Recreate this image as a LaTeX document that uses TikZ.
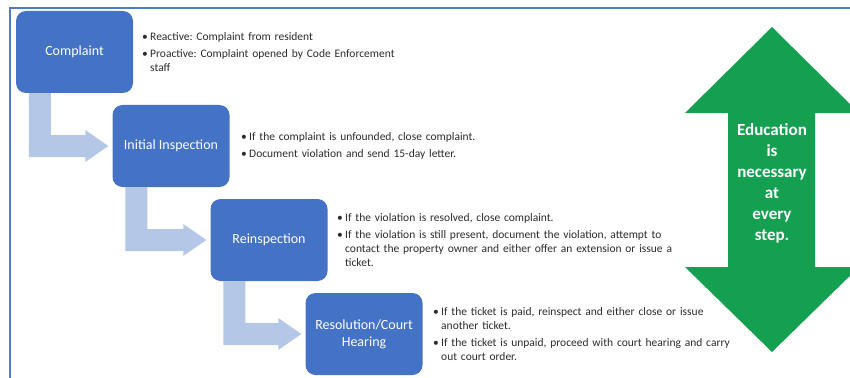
\documentclass[tikz,border=0pt]{standalone}
\usepackage{fontspec}
\setmainfont{Carlito}
\usetikzlibrary{calc}
\frenchspacing
\definecolor{boxblue}{HTML}{4472C4}
\definecolor{bentblue}{HTML}{B4C7E7}
\definecolor{framblue}{HTML}{4A7FC7}
\definecolor{edugreen}{RGB}{20,160,80}
\definecolor{bodytext}{HTML}{2B2B2B}
\newcommand\bitem[1]{\hangindent=8pt\hangafter=1\noindent\makebox[8pt][l]{\textbullet}#1\par}
\newcommand\bgap{\vspace{3pt}}
\newcommand\bentarrow[2]{%
  \coordinate (ta) at ($(#1.south west)+(13,0)$);
  \coordinate (tb) at ($(#1.south west)+(35,0)$);
  \coordinate (tt) at ($(#2.west)+(-4,0)$);
  \coordinate (hb) at ($(tt)+(-23,0)$);
  \coordinate (up) at ($(tt)+(0,-11)$);
  \coordinate (dn) at ($(tt)+(0,11)$);
  \fill[bentblue] (ta) -- (tb) -- (tb |- up) -- (hb |- up) -- ($(hb)+(0,-16)$) -- (tt)
     -- ($(hb)+(0,16)$) -- (hb |- dn) -- (ta |- dn) -- cycle;
}
\tikzset{
  stepbox/.style={fill=boxblue, rounded corners=10pt, minimum width=117pt, minimum height=82pt,
     text=white, font=\fontsize{14}{17}\selectfont, align=center, inner sep=2pt},
  bullets/.style={anchor=west, text width=380pt, align=left, inner sep=0pt, text=bodytext,
     font=\fontsize{11.5}{14}\selectfont},
}
\begin{document}
\begin{tikzpicture}[x=1pt,y=-1pt]
\useasboundingbox (0,0) rectangle (850,377);
\begin{scope}
\clip (0,0) rectangle (850,377);
% frame
\draw[framblue, line width=2pt] (10,380) -- (10,8) -- (852,8);
% steps
\node[stepbox] (c1) at (74.5,52) {Complaint};
\node[stepbox] (c2) at (171,146) {Initial Inspection};
\node[stepbox] (c3) at (269,240) {Reinspection};
\node[stepbox] (c4) at (364,334) {Resolution/Court\\Hearing};
\bentarrow{c1}{c2}
\bentarrow{c2}{c3}
\bentarrow{c3}{c4}
% bullet texts
\node[bullets] (t1) at (142,52) {\bitem{Reactive: Complaint from resident}\bgap
  \bitem{Proactive: Complaint opened by Code Enforcement\newline staff}};
\node[bullets] (t2) at (241,146) {\bitem{If the complaint is unfounded, close complaint.}\bgap
  \bitem{Document violation and send 15-day letter.}};
\node[bullets] (t3) at (337,240) {\bitem{If the violation is resolved, close complaint.}\bgap
  \bitem{If the violation is still present, document the violation, attempt to\newline contact the property owner and either offer an extension or issue a\newline ticket.}};
\node[bullets] (t4) at (433,334) {\bitem{If the ticket is paid, reinspect and either close or issue\newline another ticket.}\bgap
  \bitem{If the ticket is unpaid, proceed with court hearing and carry\newline out court order.}};
% education arrow
\fill[edugreen] (772,27) -- (859,113) -- (815,113) -- (815,267) -- (859,267) -- (772,352)
   -- (685,267) -- (728,267) -- (728,113) -- (685,113) -- cycle;
\node[text=white, font=\fontsize{17}{21}\selectfont\bfseries, align=center] (edu) at (772,183)
   {Education\\is\\necessary\\at\\every\\step.};
\end{scope}
\end{tikzpicture}
\end{document}
